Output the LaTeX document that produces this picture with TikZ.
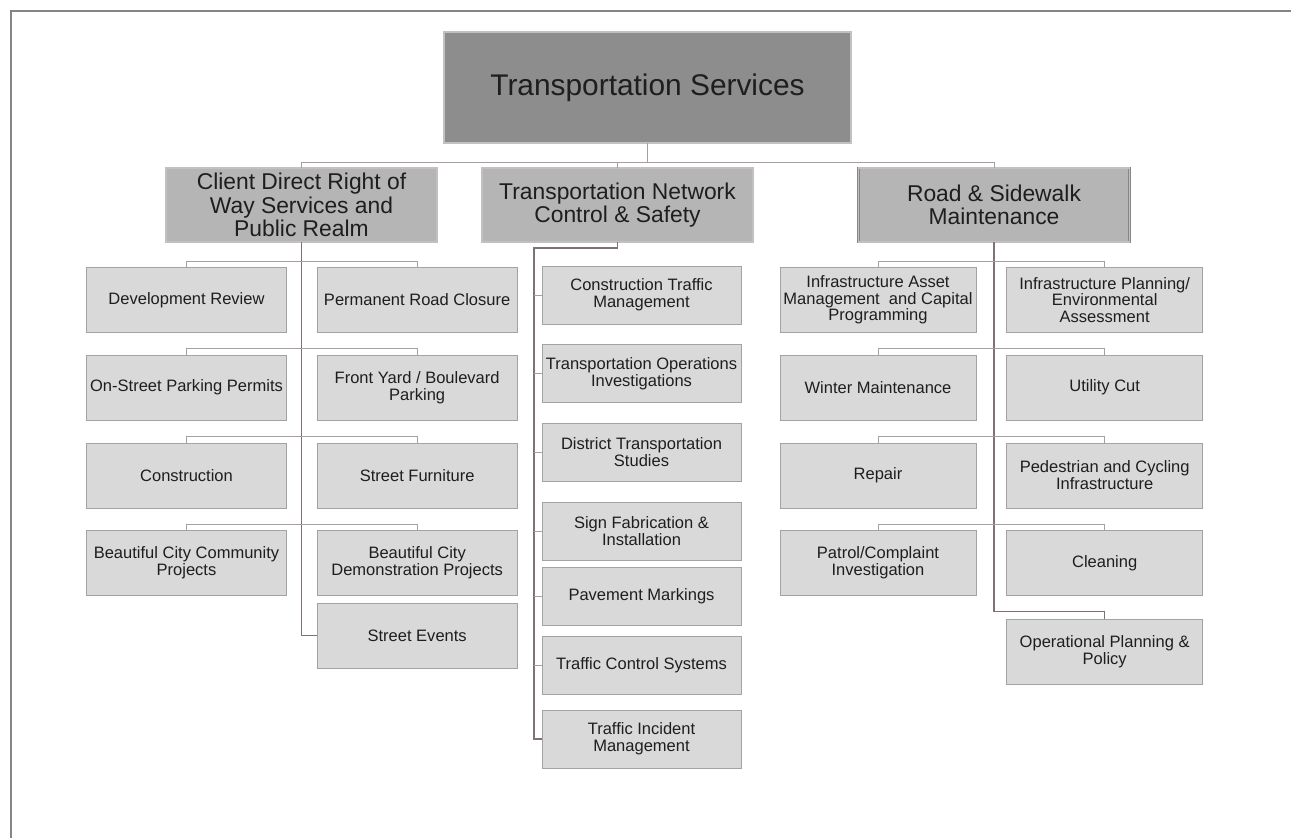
\documentclass[tikz,border=0pt]{standalone}
\usepackage{fontspec}
\setmainfont{Liberation Sans}
\usepackage{tikz}
\usetikzlibrary{positioning}
\usepackage{xcolor}
\definecolor{headfill}{HTML}{8D8D8D}
\definecolor{unitfill}{HTML}{B5B5B5}
\definecolor{leaffill}{HTML}{D9D9D9}
\definecolor{leafedge}{HTML}{A3A3A3}
\definecolor{boxedge}{HTML}{8A8585}
\definecolor{rimgray}{HTML}{C4C0C0}
\definecolor{trunkline}{HTML}{7F7272}
\definecolor{branchline}{HTML}{A89E9E}
\definecolor{inkgray}{HTML}{1E1E1E}
\definecolor{framegray}{HTML}{858585}
\tikzset{
  headbox/.style={
    rectangle, draw=boxedge, double=rimgray, double distance=0.7pt,
    line width=0.4pt, fill=headfill, text=inkgray,
    minimum width=8.14cm, minimum height=2.22cm,
    font=\fontsize{17}{20}\selectfont
  },
  unitbox/.style={
    rectangle, draw=boxedge, double=rimgray, double distance=0.7pt,
    line width=0.4pt, fill=unitfill, text=inkgray,
    minimum width=5.42cm, minimum height=1.48cm, inner sep=0pt,
    align=center, font=\fontsize{13}{13.2}\selectfont
  },
  leaf/.style={
    rectangle, draw=leafedge, fill=leaffill, text=inkgray,
    minimum width=4cm, minimum height=1.3cm, inner sep=1pt,
    align=center, font=\fontsize{9.4}{9.5}\selectfont
  },
  tleaf/.style={leaf, minimum width=3.98cm, minimum height=1.16cm},
  rleaf/.style={leaf, minimum width=3.92cm},
  trunk/.style={draw=trunkline, line width=0.6pt},
  branch/.style={draw=branchline, line width=0.5pt},
  frame/.style={draw=framegray, line width=1.1pt}
}
\begin{document}
\begin{tikzpicture}[x=0.02cm, y=0.02cm, node distance=0.44cm and 0.6cm]
  \useasboundingbox (0,0) rectangle (1291,-838);
  \draw[frame] (11,-838) -- (11,-11) -- (1291,-11);

  % top and the three divisions
  \node[headbox] (ts) at (647.5,-87.5) {Transportation Services};
  \node[unitbox] (cdrow) at (301.5,-205) {Client Direct Right of\\Way Services and\\Public Realm};
  \node[unitbox] (tncs) at (617.5,-205) {Transportation Network\\Control \& Safety};
  \node[unitbox] (rsm) at (994,-205) {Road \& Sidewalk\\Maintenance};

  % client direct right of way
  \node[leaf] (devrev) at (186.5,-300) {Development Review};
  \node[leaf, right=of devrev] (permroad) {Permanent Road Closure};
  \node[leaf, below=of devrev] (parkperm) {On-Street Parking Permits};
  \node[leaf, right=of parkperm] (frontyard) {Front Yard / Boulevard\\Parking};
  \node[leaf, below=of parkperm] (constr) {Construction};
  \node[leaf, right=of constr] (furniture) {Street Furniture};
  \node[leaf, below=of constr] (bccomm) {Beautiful City Community\\Projects};
  \node[leaf, right=of bccomm] (bcdemo) {Beautiful City\\Demonstration Projects};
  \node[leaf, below=0.14cm of bcdemo] (streetev) {Street Events};

  % network control & safety
  \node[tleaf] (ctm) at (641.5,-295) {Construction Traffic\\Management};
  \node[tleaf] (toi) at (641.5,-373.5) {Transportation Operations\\Investigations};
  \node[tleaf] (dts) at (641.5,-452) {District Transportation\\Studies};
  \node[tleaf] (sfi) at (641.5,-531) {Sign Fabrication \&\\Installation};
  \node[tleaf] (pavmark) at (641.5,-596) {Pavement Markings};
  \node[tleaf] (tcs) at (641.5,-665) {Traffic Control Systems};
  \node[tleaf] (incident) at (641.5,-739) {Traffic Incident\\Management};

  % road & sidewalk
  \node[rleaf] (iamcp) at (878,-300) {Infrastructure Asset\\Management\ \ and Capital\\Programming};
  \node[rleaf, right=of iamcp] (ipea) {Infrastructure Planning/\\Environmental\\Assessment};
  \node[rleaf, below=of iamcp] (winter) {Winter Maintenance};
  \node[rleaf, right=of winter] (utility) {Utility Cut};
  \node[rleaf, below=of winter] (repair) {Repair};
  \node[rleaf, right=of repair] (pedcyc) {Pedestrian and Cycling\\Infrastructure};
  \node[rleaf, below=of repair] (patrol) {Patrol/Complaint\\Investigation};
  \node[rleaf, right=of patrol] (cleaning) {Cleaning};
  \node[rleaf, below=0.46cm of cleaning] (opplan) {Operational Planning \&\\Policy};

  % connectors
  \foreach \d in {cdrow, tncs, rsm}
    \draw[branch] (ts.south) -- ++(0,-0.38cm) -| (\d.north);

  \draw[trunk] (cdrow.south) |- (streetev.west);
  \coordinate (tnbus) at (534,-248);
  \draw[trunk] (tncs.south) |- (tnbus) |- (incident.west);
  \draw[trunk] (rsm.south) |- ([yshift=0.14cm]opplan.north) -- (opplan.north);

  \foreach \a/\b in {devrev/permroad, parkperm/frontyard, constr/furniture,
                     bccomm/bcdemo, iamcp/ipea, winter/utility,
                     repair/pedcyc, patrol/cleaning}
    \draw[branch] (\a.north) -- ++(0,0.12cm) -| (\b.north);
  \foreach \n in {ctm, toi, dts, sfi, pavmark, tcs}
    \draw[branch] (\n.west) -- ++(-0.16cm,0);
\end{tikzpicture}
\end{document}
